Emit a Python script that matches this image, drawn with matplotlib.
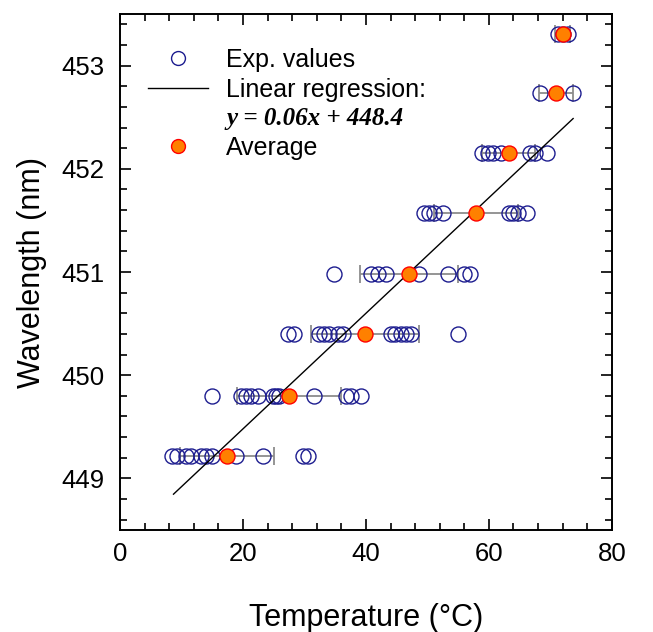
import numpy as np
import matplotlib
matplotlib.use("Agg")
import matplotlib.pyplot as plt
from matplotlib.lines import Line2D
from matplotlib.font_manager import FontProperties
from matplotlib.ticker import MultipleLocator

plt.rcParams['font.family'] = ['Liberation Sans', 'DejaVu Sans']

# wavelength levels (nm) and measured temperatures at each level
levels = [449.22, 449.80, 450.40, 450.98, 451.57, 452.15, 452.73, 453.31]
temps = [
    [8.4, 9.2, 10.8, 11.6, 13.2, 14.0, 14.9, 18.9, 23.3, 29.7, 30.5],
    [14.9, 19.7, 20.5, 21.3, 22.5, 24.9, 25.4, 25.9, 31.6, 36.7, 37.6, 39.2],
    [27.3, 28.3, 32.4, 33.2, 34.0, 35.4, 36.3, 44.0, 44.8, 45.7, 46.5, 47.3, 54.9],
    [34.8, 40.8, 41.9, 43.2, 48.6, 53.4, 55.9, 57.0],
    [49.4, 50.2, 51.0, 52.6, 63.2, 64.0, 64.8, 66.2],
    [58.9, 59.9, 60.7, 61.9, 66.7, 67.5, 69.5],
    [68.3, 73.7],
    [71.2, 72.0, 72.8],
]

# averages and their spread
avg_temp = [17.4, 27.5, 39.8, 47.0, 57.9, 63.2, 70.9, 72.0]
avg_err = [7.7, 8.5, 8.75, 7.95, 6.9, 4.3, 2.7, 1.2]

# linear regression line
slope, intercept = 0.056, 448.36
fit_x = np.array([8.7, 73.7])

fig = plt.figure(figsize=(6.53, 6.32), dpi=100)
ax = fig.add_axes([0.1838, 0.1614, 0.7532, 0.8164])

navy = '#1c1c8f'
for lvl, tt in zip(levels, temps):
    ax.plot(tt, [lvl] * len(tt), 'o', ms=10.8, mfc='none', mec=navy, mew=1.0, zorder=3)

ax.errorbar(avg_temp, levels, xerr=avg_err, fmt='none', ecolor='#8c8c8c',
            elinewidth=1.3, capsize=6.5, capthick=1.3, zorder=2)
ax.plot(fit_x, slope * fit_x + intercept, color='black', lw=1.0, zorder=4)
ax.plot(avg_temp, levels, 'o', ms=10.8, mfc='#ff8000', mec='red', mew=1.0, zorder=5)

ax.set_xlim(0, 80)
ax.set_ylim(448.5, 453.5)
ax.xaxis.set_major_locator(MultipleLocator(20))
ax.xaxis.set_minor_locator(MultipleLocator(4))
ax.yaxis.set_major_locator(MultipleLocator(1))
ax.yaxis.set_minor_locator(MultipleLocator(0.2))
ax.tick_params(which='both', direction='in', top=True, right=True, width=1.2)
ax.tick_params(which='major', length=8, labelsize=18.5)
ax.tick_params(axis='x', which='major', pad=9)
ax.tick_params(axis='y', which='major', pad=11)
ax.tick_params(which='minor', length=5)
for s in ax.spines.values():
    s.set_linewidth(1.4)

ax.set_xlabel('Temperature (°C)', fontsize=22, labelpad=26)
ax.set_ylabel('Wavelength (nm)', fontsize=22, labelpad=10.5)

handles = [
    Line2D([], [], ls='none', marker='o', ms=10, mfc='none', mec=navy, mew=1.0),
    Line2D([], [], color='black', lw=1.0),
    Line2D([], [], ls='none'),
    Line2D([], [], ls='none', marker='o', ms=10, mfc='#ff8000', mec='red', mew=1.0),
]
labels = ['Exp. values', 'Linear regression:', 'y = 0.06x + 448.4', 'Average']
leg = ax.legend(handles, labels, loc='upper left', bbox_to_anchor=(0.057, 0.934),
                frameon=False, fontsize=18, labelspacing=0.22, handlelength=2.4,
                handletextpad=0.72, borderpad=0, borderaxespad=0)
leg.get_texts()[2].set_fontproperties(
    FontProperties(family='Liberation Serif', weight='bold', style='italic', size=18))

fig.savefig('out.png', dpi=100)
